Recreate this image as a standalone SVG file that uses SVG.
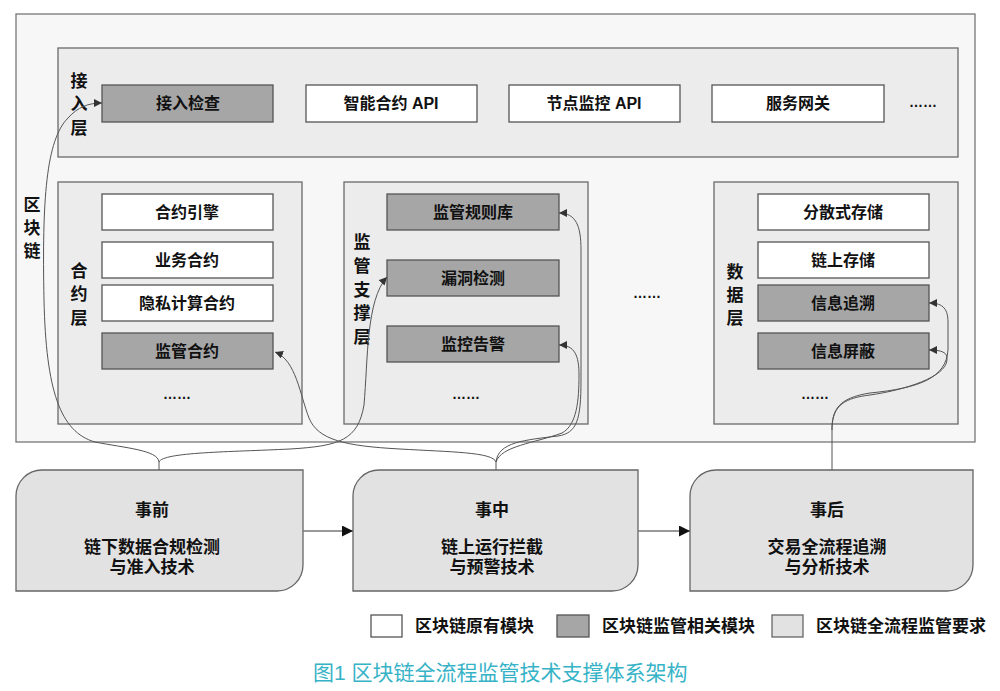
<svg xmlns="http://www.w3.org/2000/svg" width="1000" height="691" viewBox="0 0 1000 691">
<defs>
<style>
text{font-family:"Liberation Sans","Noto Sans CJK SC",sans-serif;font-weight:bold;fill:#111;text-anchor:middle;dominant-baseline:central}
.t{font-size:16px}
.lbl{font-size:17px}
.layer{fill:#ececec;stroke:#6a6a6a;stroke-width:1.3}
.wb{fill:#ffffff;stroke:#555;stroke-width:1.3}
.db{fill:#a6a6a6;stroke:#555;stroke-width:1.3}
.pb{fill:#e2e2e2;stroke:#666;stroke-width:1.3}
.dots{font-size:14px;font-weight:bold}
.con{fill:none;stroke:#555;stroke-width:1}
.flow{fill:none;stroke:#777;stroke-width:1.3}
.cap{font-weight:normal;fill:#37b3c7;font-size:21px;text-anchor:start}
.leg{font-size:17px;text-anchor:start}
</style>
<marker id="ah" viewBox="0 0 10 10" refX="10" refY="5" markerWidth="8" markerHeight="8" orient="auto" markerUnits="userSpaceOnUse">
<path d="M0,0 L10,5 L0,10 Z" fill="#333"/>
</marker>
<marker id="ahb" viewBox="0 0 10 10" refX="10" refY="5" markerWidth="11" markerHeight="11" orient="auto" markerUnits="userSpaceOnUse">
<path d="M0,0 L10,5 L0,10 Z" fill="#111"/>
</marker>
</defs>
<rect width="1000" height="691" fill="#ffffff"/>
<g id="blockchain">
<rect x="16" y="14" width="959" height="428" fill="#f7f7f7" stroke="#777" stroke-width="1.3"/>
<text class="lbl" x="32" y="205">区</text>
<text class="lbl" x="32" y="228">块</text>
<text class="lbl" x="32" y="251">链</text>
</g>
<g id="access-layer">
<rect class="layer" x="58" y="48" width="900" height="109"/>
<text class="lbl" x="79" y="81">接</text>
<text class="lbl" x="79" y="104">入</text>
<text class="lbl" x="79" y="128">层</text>
</g>
<g id="access-check"><rect class="db" x="102" y="85" width="171" height="37"/><text class="t" x="188" y="103.5">接入检查</text></g>
<g id="sc-api"><rect class="wb" x="306" y="85" width="171" height="37"/><text class="t" x="391" y="103.5">智能合约 API</text></g>
<g id="node-api"><rect class="wb" x="509" y="85" width="171" height="37"/><text class="t" x="594" y="103.5">节点监控 API</text></g>
<g id="gateway"><rect class="wb" x="712" y="85" width="172" height="37"/><text class="t" x="798" y="103.5">服务网关</text></g>
<text class="dots" x="923" y="102">……</text>

<g id="contract-layer">
<rect class="layer" x="58" y="182" width="244" height="242"/>
<text class="lbl" x="79" y="271">合</text>
<text class="lbl" x="79" y="294">约</text>
<text class="lbl" x="79" y="318">层</text>
</g>
<g id="contract-engine"><rect class="wb" x="102" y="194" width="171" height="36"/><text class="t" x="187" y="212">合约引擎</text></g>
<g id="business-contract"><rect class="wb" x="102" y="242" width="171" height="36"/><text class="t" x="187" y="260">业务合约</text></g>
<g id="privacy-contract"><rect class="wb" x="102" y="285" width="171" height="36"/><text class="t" x="187" y="303">隐私计算合约</text></g>
<g id="supervision-contract"><rect class="db" x="102" y="333" width="171" height="36"/><text class="t" x="187" y="351">监管合约</text></g>
<text class="dots" x="177" y="394">……</text>

<g id="support-layer">
<rect class="layer" x="344" y="182" width="244" height="242"/>
<text class="lbl" x="362" y="242">监</text>
<text class="lbl" x="362" y="266">管</text>
<text class="lbl" x="362" y="290">支</text>
<text class="lbl" x="362" y="313">撑</text>
<text class="lbl" x="362" y="337">层</text>
</g>
<g id="rule-base"><rect class="db" x="387" y="194" width="172" height="36"/><text class="t" x="473" y="212">监管规则库</text></g>
<g id="vuln-detect"><rect class="db" x="387" y="260" width="172" height="36"/><text class="t" x="473" y="278">漏洞检测</text></g>
<g id="monitor-alert"><rect class="db" x="387" y="326" width="172" height="36"/><text class="t" x="473" y="344">监控告警</text></g>
<text class="dots" x="466" y="394">……</text>

<text class="dots" x="647" y="293">……</text>

<g id="data-layer">
<rect class="layer" x="714" y="182" width="244" height="242"/>
<text class="lbl" x="735" y="272">数</text>
<text class="lbl" x="735" y="295">据</text>
<text class="lbl" x="735" y="318">层</text>
</g>
<g id="dist-storage"><rect class="wb" x="758" y="194" width="171" height="36"/><text class="t" x="843" y="212">分散式存储</text></g>
<g id="chain-storage"><rect class="wb" x="758" y="242" width="171" height="36"/><text class="t" x="843" y="260">链上存储</text></g>
<g id="info-trace"><rect class="db" x="758" y="285" width="171" height="36"/><text class="t" x="843" y="303">信息追溯</text></g>
<g id="info-mask"><rect class="db" x="758" y="333" width="171" height="36"/><text class="t" x="843" y="351">信息屏蔽</text></g>
<text class="dots" x="815" y="394">……</text>

<g id="pre">
<path class="pb" d="M42,470 H303 V565 A26,26 0 0 1 277,591 H16 V496 A26,26 0 0 1 42,470 Z"/>
<text class="lbl" x="152" y="510">事前</text>
<text class="lbl" x="152" y="547">链下数据合规检测</text>
<text class="lbl" x="152" y="567">与准入技术</text>
</g>
<g id="during">
<path class="pb" d="M379,470 H638 V565 A26,26 0 0 1 612,591 H353 V496 A26,26 0 0 1 379,470 Z"/>
<text class="lbl" x="492" y="510">事中</text>
<text class="lbl" x="492" y="547">链上运行拦截</text>
<text class="lbl" x="492" y="567">与预警技术</text>
</g>
<g id="post">
<path class="pb" d="M716,470 H973 V565 A26,26 0 0 1 947,591 H690 V496 A26,26 0 0 1 716,470 Z"/>
<text class="lbl" x="827" y="510">事后</text>
<text class="lbl" x="827" y="547">交易全流程追溯</text>
<text class="lbl" x="827" y="567">与分析技术</text>
</g>

<g id="connectors">
<path class="flow" d="M303,531 H353" marker-end="url(#ahb)"/>
<path class="flow" d="M638,531 H690" marker-end="url(#ahb)"/>
<path class="con" d="M159,470 L159,462 C158,450 125,448 95,442 C60,432 46,390 44,300 C42,200 46,140 68,118 C78,107 88,103 102,103" marker-end="url(#ah)"/>
<path class="con" d="M159,462 C163,452 230,452 290,449 C340,446 358,440 364,405 C368,360 366,300 387,277" marker-end="url(#ah)"/>
<path class="con" d="M496,470 L496,462 C493,452 450,452 400,449 C345,446 318,440 309,418 C300,395 296,360 275,352" marker-end="url(#ah)"/>
<path class="con" d="M496,462 C498,442 525,440 558,436 C577,433 581,420 581,380 L581,250 C581,226 576,213 559,213" marker-end="url(#ah)"/>
<path class="con" d="M496,462 C501,446 535,443 562,433 C577,425 579,400 579,375 C579,356 575,345 559,345" marker-end="url(#ah)"/>
<path class="con" d="M832,470 L832,427 C833,405 845,398 870,395 C905,390 946,377 947,360 C948,352 941,350 929,350" marker-end="url(#ah)"/>
<path class="con" d="M832,430 C832,410 838,398 870,393 C920,388 946,378 948,350 L948,322 C948,307 941,303 929,303" marker-end="url(#ah)"/>
</g>

<g id="legend">
<rect class="wb" x="371" y="615" width="31" height="22"/>
<text class="leg" x="415" y="626">区块链原有模块</text>
<rect class="db" x="557" y="615" width="32" height="22"/>
<text class="leg" x="602" y="626">区块链监管相关模块</text>
<rect class="pb" x="772" y="615" width="31" height="22"/>
<text class="leg" x="816" y="626">区块链全流程监管要求</text>
</g>
<text class="cap" x="313" y="672">图1 区块链全流程监管技术支撑体系架构</text>
</svg>
